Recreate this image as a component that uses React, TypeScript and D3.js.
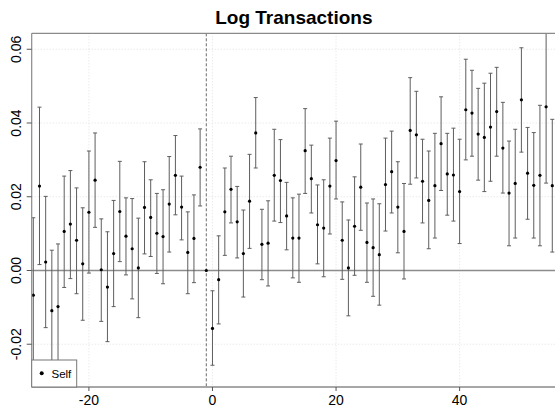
import React from "react";
import * as d3 from "d3";

// Event-study periods (relative to the event) and estimated effects with 95% bounds
const periods: number[] = d3.range(-29, 56);

const estimates: number[] = [
  -0.0067, 0.0229, 0.0023, -0.0109, -0.0098, 0.0106, 0.0126, 0.0082, 0.0018, 0.0158,
  0.0245, 0.0002, -0.0045, 0.0046, 0.016, 0.0093, 0.0059, 0.0007, 0.0171, 0.0144,
  0.0101, 0.0092, 0.018, 0.0258, 0.0172, 0.0049, 0.0087, 0.028, 0.0, -0.0157,
  -0.0025, 0.0159, 0.022, 0.0132, 0.0046, 0.0188, 0.0373, 0.0071, 0.0074, 0.0258,
  0.0244, 0.0148, 0.0088, 0.0088, 0.0325, 0.0249, 0.0124, 0.0115, 0.0229, 0.0298,
  0.0082, 0.0007, 0.012, 0.0226, 0.0076, 0.0062, 0.0043, 0.0233, 0.0268, 0.0172,
  0.0106, 0.038, 0.0368, 0.0242, 0.019, 0.023, 0.0344, 0.0262, 0.0259, 0.0214,
  0.0436, 0.0427, 0.037, 0.0361, 0.0389, 0.0431, 0.0332, 0.021, 0.0236, 0.0463,
  0.0264, 0.0231, 0.0258, 0.0444, 0.023,
];

const lowerBounds: number[] = [
  -0.0277, 0.0016, -0.0155, -0.0274, -0.0269, -0.0046, -0.0022, -0.0063, -0.0135, -0.0007,
  0.0117, -0.0138, -0.0193, -0.0098, 0.0024, -0.0012, -0.0077, -0.0128, 0.0045, 0.0038,
  -0.0008, -0.0036, 0.005, 0.0151, 0.0083, -0.0063, -0.0033, 0.0175, 0.0, -0.0257,
  -0.0145, 0.0041, 0.0129, 0.0034, -0.0072, 0.006, 0.0278, -0.0025, -0.0042, 0.0134,
  0.013, 0.0056, -0.002, -0.0032, 0.0209, 0.0156, 0.0018, -0.0017, 0.0099, 0.0194,
  -0.0024, -0.0123, -0.0013, 0.0109, -0.0032, -0.007, -0.0094, 0.0107, 0.0156, 0.0048,
  -0.0023, 0.0234, 0.0251, 0.0129, 0.0059, 0.0088, 0.0217, 0.015, 0.0134, 0.0073,
  0.03, 0.031, 0.0245, 0.0214, 0.0242, 0.031, 0.021, 0.0067, 0.0088, 0.0321,
  0.0139, 0.0088, 0.0067, 0.0237, 0.005,
];

const upperBounds: number[] = [
  0.0143, 0.0443, 0.0201, 0.0055, 0.0072, 0.0256, 0.0271, 0.0224, 0.017, 0.0324,
  0.0373, 0.014, 0.0105, 0.019, 0.0296, 0.0197, 0.0195, 0.0142, 0.0295, 0.0246,
  0.0209, 0.0219, 0.0309, 0.0366, 0.0256, 0.0159, 0.0205, 0.0384, 0.0, -0.0055,
  0.0094, 0.0278, 0.031, 0.0228, 0.0164, 0.0315, 0.0469, 0.0166, 0.0189, 0.0383,
  0.0355, 0.0239, 0.0197, 0.0207, 0.0439, 0.034, 0.0232, 0.0246, 0.0359, 0.0405,
  0.0186, 0.0137, 0.0254, 0.0343, 0.0183, 0.0194, 0.0181, 0.0359, 0.0378, 0.0295,
  0.0236, 0.0523, 0.0486, 0.0356, 0.0324, 0.0372, 0.0471, 0.0372, 0.0386, 0.0356,
  0.0573, 0.0543, 0.0494, 0.0508, 0.0535, 0.0551, 0.0456, 0.0351, 0.0383, 0.0604,
  0.0388, 0.0374, 0.0448, 0.0652, 0.041,
];

const xTicks: number[] = [-20, 0, 20, 40];
const yTicks: number[] = [-0.02, 0, 0.02, 0.04, 0.06];
const referencePeriod = -1;
const chartTitle = "Log Transactions";
const legendLabel = "Self";

const W = 555;
const H = 414;
const plot = { left: 31.7, right: 556, top: 33.3, bottom: 387 };

export default function App() {
  const x = d3.scaleLinear().domain([-29.26, 55.6]).range([plot.left, plot.right]);
  const y = d3.scaleLinear().domain([-0.0316, 0.06433]).range([plot.bottom, plot.top]);
  // plain hyphen for negative labels
  const fmt = (v: number) => d3.format(".2f")(v).replace("\u2212", "-");
  const font = "Arial, 'Liberation Sans', Helvetica, sans-serif";
  const cap = 2;

  const rows = periods.map((p, i) => ({
    p,
    est: estimates[i],
    lo: lowerBounds[i],
    hi: upperBounds[i],
  }));

  return (
    <svg
      width={W}
      height={H}
      style={{ position: "absolute", left: 0, top: 0, background: "#fff" }}
      fontFamily={font}
    >
      <defs>
        <clipPath id="plot-clip">
          <rect
            x={plot.left}
            y={plot.top}
            width={plot.right - plot.left}
            height={plot.bottom - plot.top}
          />
        </clipPath>
      </defs>

      {/* title */}
      <text
        x={(plot.left + plot.right) / 2}
        y={24}
        textAnchor="middle"
        fontSize={19}
        fontWeight="bold"
        fill="#000"
      >
        {chartTitle}
      </text>

      {/* dotted grid */}
      <g stroke="#d9d9d9" strokeWidth={0.8} strokeDasharray="1,2">
        {xTicks.map((t) => (
          <line key={"gx" + t} x1={x(t)} x2={x(t)} y1={plot.top} y2={plot.bottom} />
        ))}
        {yTicks.map((t) => (
          <line key={"gy" + t} x1={plot.left} x2={plot.right} y1={y(t)} y2={y(t)} />
        ))}
      </g>

      <g clipPath="url(#plot-clip)">
        {/* zero reference line */}
        <line x1={plot.left} x2={plot.right} y1={y(0)} y2={y(0)} stroke="#8c8c8c" strokeWidth={1.3} />
        {/* event marker */}
        <line
          x1={x(referencePeriod)}
          x2={x(referencePeriod)}
          y1={plot.top}
          y2={plot.bottom}
          stroke="#444"
          strokeWidth={0.8}
          strokeDasharray="3,2"
        />

        {/* confidence intervals */}
        <g stroke="#5e5e5e" strokeWidth={1}>
          {rows
            .filter((r) => r.hi !== r.lo)
            .map((r) => (
              <g key={"ci" + r.p}>
                <line x1={x(r.p)} x2={x(r.p)} y1={y(r.lo)} y2={y(r.hi)} />
                <line x1={x(r.p) - cap} x2={x(r.p) + cap} y1={y(r.lo)} y2={y(r.lo)} />
                <line x1={x(r.p) - cap} x2={x(r.p) + cap} y1={y(r.hi)} y2={y(r.hi)} />
              </g>
            ))}
        </g>

        {/* point estimates */}
        <g fill="#000">
          {rows.map((r) => (
            <circle key={"pt" + r.p} cx={x(r.p)} cy={y(r.est)} r={1.6} />
          ))}
        </g>
      </g>

      {/* frame */}
      <line x1={plot.left} x2={plot.right} y1={plot.top} y2={plot.top} stroke="#8a8a8a" strokeWidth={1.2} />
      <line x1={plot.left} x2={plot.left} y1={plot.top} y2={plot.bottom} stroke="#8a8a8a" strokeWidth={1.2} />
      <line x1={plot.left} x2={plot.right} y1={plot.bottom} y2={plot.bottom} stroke="#8a8a8a" strokeWidth={1.5} />

      {/* x axis */}
      <g>
        {xTicks.map((t) => (
          <g key={"xt" + t}>
            <line x1={x(t)} x2={x(t)} y1={plot.bottom} y2={plot.bottom + 4} stroke="#555" />
            <text x={x(t)} y={405} textAnchor="middle" fontSize={14} fill="#000">
              {t}
            </text>
          </g>
        ))}
      </g>

      {/* y axis */}
      <g>
        {yTicks.map((t) => (
          <g key={"yt" + t}>
            <line x1={plot.left - 5} x2={plot.left} y1={y(t)} y2={y(t)} stroke="#555" />
            <text
              transform={`translate(21,${y(t)}) rotate(-90)`}
              textAnchor="middle"
              fontSize={14}
              fill="#000"
            >
              {fmt(t)}
            </text>
          </g>
        ))}
      </g>

      {/* legend */}
      <g>
        <rect x={plot.left} y={360} width={45} height={27} fill="#fff" stroke="#777" strokeWidth={1} />
        <circle cx={41.7} cy={373.3} r={2} fill="#000" />
        <text x={51.5} y={377.5} fontSize={11.5} fill="#000">
          {legendLabel}
        </text>
      </g>
    </svg>
  );
}
